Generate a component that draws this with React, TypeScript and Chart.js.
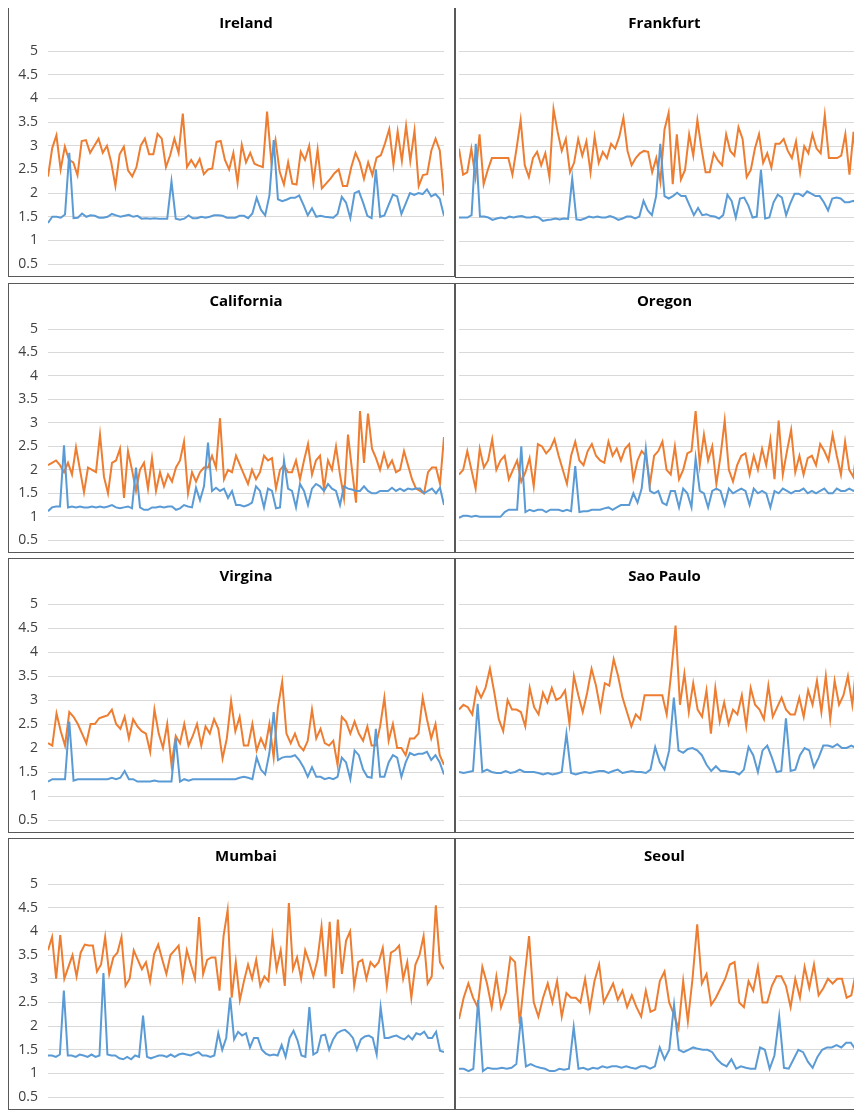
import { useEffect, useRef } from "react"
import { Chart, registerables } from "chart.js"

Chart.register(...registerables)

const irelandBlue = [1.37,1.5,1.5,1.48,1.55,2.85,1.47,1.48,1.57,1.5,1.53,1.52,1.48,1.48,1.5,1.56,1.53,1.5,1.52,1.54,1.5,1.52,1.46,1.47,1.46,1.47,1.46,1.46,1.46,2.25,1.46,1.44,1.46,1.53,1.47,1.47,1.5,1.48,1.5,1.53,1.53,1.52,1.48,1.48,1.48,1.52,1.52,1.47,1.57,1.9,1.65,1.53,1.95,3.12,1.87,1.83,1.86,1.9,1.9,1.95,1.75,1.53,1.68,1.5,1.52,1.5,1.49,1.48,1.56,1.92,1.8,1.47,2.0,2.04,1.8,1.52,1.47,2.5,1.5,1.53,1.75,1.97,1.93,1.56,1.78,2.0,1.96,2.0,1.98,2.08,1.93,1.98,1.88,1.52]
const irelandOrange = [2.35,2.95,3.22,2.5,2.98,2.7,2.65,2.38,3.1,3.12,2.85,3.0,3.15,2.85,3.0,2.65,2.15,2.82,2.98,2.48,2.35,2.55,3.0,3.15,2.82,2.82,3.25,3.15,2.55,2.8,3.15,2.85,3.68,2.55,2.7,2.55,2.72,2.4,2.5,2.52,3.08,3.1,2.7,2.5,2.85,2.22,3.02,2.65,2.85,2.62,2.58,2.55,3.72,2.68,3.12,2.45,2.18,2.65,2.2,2.18,2.87,2.7,3.0,2.22,2.92,2.1,2.2,2.3,2.42,2.5,2.15,2.15,2.55,2.85,2.65,2.3,2.65,2.38,2.75,2.8,3.05,3.35,2.6,3.3,2.68,3.42,2.68,3.32,2.15,2.38,2.4,2.9,3.15,2.9,1.95]

const frankfurtBlue = [1.5,1.5,1.5,1.55,3.05,1.52,1.52,1.5,1.45,1.48,1.5,1.48,1.52,1.5,1.52,1.53,1.5,1.5,1.52,1.5,1.43,1.45,1.46,1.48,1.46,1.48,1.47,2.32,1.46,1.45,1.48,1.52,1.5,1.52,1.5,1.5,1.53,1.5,1.45,1.48,1.52,1.52,1.48,1.52,1.85,1.65,1.55,1.95,3.05,1.95,1.9,1.95,2.02,1.95,1.95,1.75,1.55,1.7,1.55,1.57,1.53,1.52,1.48,1.55,1.98,1.85,1.5,1.9,1.92,1.75,1.5,1.52,2.5,1.48,1.5,1.82,1.98,1.92,1.55,1.8,2.0,2.0,1.95,2.05,2.0,1.95,1.95,1.82,1.65,1.9,1.92,1.9,1.82,1.82,1.85,1.8,2.5,1.88,1.88]
const frankfurtOrange = [2.95,2.4,2.45,2.95,2.35,3.25,2.2,2.5,2.75,2.75,2.75,2.75,2.75,2.4,2.95,3.55,2.6,2.35,2.75,2.88,2.6,2.85,2.35,3.78,3.3,2.9,3.15,2.45,2.65,3.15,2.8,3.1,2.45,3.2,2.65,2.88,2.75,3.05,2.95,3.2,3.6,2.9,2.6,2.75,2.85,2.9,2.88,2.45,2.75,2.25,3.35,3.7,2.2,3.25,2.3,2.5,3.25,2.8,3.55,2.95,2.45,2.45,2.85,2.7,2.6,3.25,2.9,2.8,3.4,3.15,2.35,2.5,2.95,3.25,2.65,2.85,2.55,3.05,3.05,3.15,2.9,2.75,3.1,2.45,3.0,2.85,3.25,2.95,2.85,3.65,2.75,2.75,2.75,2.8,3.25,2.4,3.3,2.4,2.7,3.35,3.32]

const californiaBlue = [1.12,1.2,1.22,1.22,2.52,1.2,1.22,1.2,1.22,1.2,1.2,1.22,1.2,1.22,1.2,1.22,1.25,1.2,1.18,1.2,1.22,1.18,2.05,1.2,1.15,1.15,1.2,1.2,1.22,1.2,1.22,1.22,1.15,1.18,1.25,1.22,1.2,1.62,1.35,1.65,2.58,1.55,1.62,1.55,1.6,1.4,1.55,1.25,1.25,1.22,1.25,1.3,1.65,1.55,1.2,1.6,1.55,1.18,1.2,2.2,1.6,1.55,1.2,1.7,1.55,1.25,1.6,1.7,1.65,1.55,1.7,1.6,1.55,1.25,1.65,1.6,1.58,1.55,1.55,1.65,1.55,1.5,1.5,1.55,1.55,1.55,1.62,1.55,1.6,1.55,1.6,1.58,1.6,1.6,1.5,1.55,1.6,1.5,1.62,1.25]
const californiaOrange = [2.1,2.15,2.2,2.1,1.95,2.15,1.9,2.48,2.0,1.52,2.05,2.0,1.95,2.75,1.85,1.5,2.15,2.2,2.45,1.4,2.4,2.0,1.55,2.0,2.15,1.6,2.25,1.55,1.95,1.65,1.9,1.75,2.05,2.2,2.6,1.5,1.95,1.75,1.95,2.05,2.05,2.3,2.05,3.1,1.8,2.0,1.95,2.3,2.1,1.9,1.7,2.0,1.8,1.95,2.3,2.2,2.25,1.6,2.0,2.1,1.95,1.95,2.2,1.8,2.2,2.55,1.9,2.2,2.3,1.6,2.2,2.0,2.5,1.9,1.4,2.75,2.0,1.3,3.25,2.15,3.2,2.45,2.25,2.0,2.35,2.05,2.2,1.95,2.0,2.4,2.1,1.8,1.6,1.55,1.5,1.95,2.05,2.05,1.7,2.7]

const oregonBlue = [0.98,1.02,1.02,1.0,1.02,1.0,1.0,1.0,1.0,1.0,1.0,1.1,1.15,1.15,1.15,2.5,1.1,1.15,1.12,1.15,1.15,1.1,1.15,1.15,1.15,1.12,1.15,1.12,2.08,1.1,1.12,1.12,1.15,1.15,1.15,1.18,1.2,1.15,1.2,1.25,1.25,1.25,1.5,1.3,1.6,2.45,1.55,1.5,1.55,1.3,1.25,1.55,1.55,1.2,1.6,1.5,1.2,2.25,1.55,1.5,1.2,1.55,1.6,1.55,1.25,1.6,1.5,1.55,1.6,1.55,1.25,1.6,1.5,1.55,1.5,1.2,1.55,1.5,1.6,1.55,1.5,1.55,1.55,1.6,1.5,1.55,1.5,1.55,1.6,1.5,1.5,1.6,1.55,1.55,1.6,1.55,1.6,1.5,1.55,1.25]
const oregonOrange = [1.9,2.0,2.4,2.0,1.6,2.45,2.05,2.2,2.65,2.0,2.2,2.3,1.8,2.0,2.2,1.75,1.95,2.25,1.65,2.55,2.5,2.35,2.45,2.65,2.3,2.0,1.7,2.3,2.6,2.2,2.1,2.4,2.55,2.3,2.2,2.15,2.6,2.3,2.45,2.2,2.45,2.55,1.8,2.2,2.4,2.3,1.7,2.3,2.4,2.6,2.0,1.9,2.5,1.8,2.0,2.35,2.4,3.25,2.1,2.75,2.2,2.5,1.7,2.3,3.05,2.0,1.75,2.1,2.3,2.35,1.9,2.3,2.0,2.45,2.1,2.65,1.8,3.05,1.9,2.4,2.85,1.95,2.3,1.9,2.25,2.3,2.1,2.55,2.4,2.2,2.75,2.3,1.9,2.6,2.0,1.85,2.6,1.9,2.55,2.2]

const virginaBlue = [1.3,1.35,1.35,1.35,1.35,2.55,1.32,1.35,1.35,1.35,1.35,1.35,1.35,1.35,1.35,1.38,1.35,1.38,1.52,1.35,1.35,1.3,1.3,1.3,1.3,1.32,1.3,1.3,1.3,1.3,2.2,1.3,1.35,1.32,1.35,1.35,1.35,1.35,1.35,1.35,1.35,1.35,1.35,1.35,1.35,1.38,1.4,1.38,1.35,1.8,1.55,1.45,1.9,2.75,1.75,1.8,1.82,1.82,1.85,1.75,1.6,1.4,1.6,1.4,1.4,1.35,1.38,1.35,1.4,1.8,1.7,1.35,1.95,1.85,1.55,1.4,1.38,2.4,1.4,1.4,1.7,1.85,1.8,1.4,1.7,1.9,1.85,1.88,1.88,1.92,1.75,1.85,1.7,1.45]
const virginaOrange = [2.1,2.05,2.72,2.35,2.05,2.75,2.65,2.5,2.3,2.1,2.5,2.5,2.62,2.65,2.68,2.8,2.5,2.4,2.65,2.2,2.6,2.45,2.35,2.3,1.92,2.8,2.3,2.0,2.5,1.65,2.25,2.1,2.5,2.05,2.25,2.5,2.05,2.45,2.3,2.6,2.4,1.78,2.2,2.98,2.35,2.65,2.05,2.05,2.5,1.95,2.2,2.0,2.5,1.8,2.85,3.38,2.3,2.1,2.3,2.05,1.95,2.15,2.8,2.2,2.4,2.1,2.05,2.15,1.65,2.65,2.55,2.3,2.55,2.3,2.15,2.45,2.05,2.05,2.45,3.05,2.15,2.5,2.0,2.0,1.85,2.2,2.2,2.3,3.05,2.6,2.2,2.5,1.85,1.65]

const saoPauloBlue = [1.5,1.48,1.5,1.52,2.92,1.5,1.55,1.5,1.48,1.48,1.52,1.48,1.5,1.55,1.5,1.5,1.5,1.48,1.45,1.48,1.45,1.47,1.5,2.3,1.48,1.45,1.48,1.5,1.48,1.5,1.52,1.52,1.48,1.52,1.55,1.48,1.5,1.52,1.5,1.5,1.48,1.55,2.02,1.7,1.55,1.95,3.05,1.95,1.9,1.98,2.0,1.95,1.85,1.65,1.52,1.62,1.52,1.52,1.5,1.5,1.45,1.55,2.02,1.85,1.5,1.95,2.05,1.8,1.5,1.52,2.62,1.52,1.55,1.85,2.0,1.95,1.6,1.8,2.05,2.05,2.02,2.08,2.0,2.0,2.05,2.0,1.95,1.85,1.6]
const saoPauloOrange = [2.8,2.9,2.85,2.7,3.25,3.05,3.25,3.65,3.15,2.6,2.35,3.0,2.8,2.8,2.75,2.45,3.25,2.85,2.7,3.15,2.95,3.25,3.0,3.05,3.2,2.5,3.5,3.1,2.75,3.15,3.65,3.3,2.8,3.35,3.3,3.85,3.5,3.05,2.75,2.45,2.7,2.6,3.1,3.1,3.1,3.1,3.1,2.7,3.55,4.55,2.9,3.55,2.75,3.35,2.8,2.65,3.2,2.3,3.25,2.55,2.95,2.5,2.8,2.7,3.1,2.45,3.25,2.9,2.8,2.6,3.3,2.65,2.85,3.05,2.8,2.7,2.7,3.05,2.65,3.2,2.9,3.4,2.75,3.5,2.6,3.4,2.9,3.1,3.5,2.9,3.8,2.95,3.15,2.3]

const mumbaiBlue = [1.38,1.38,1.35,1.4,2.75,1.38,1.38,1.35,1.4,1.38,1.35,1.4,1.35,1.38,3.12,1.4,1.38,1.38,1.32,1.3,1.35,1.3,1.38,1.35,2.22,1.35,1.32,1.35,1.38,1.38,1.35,1.4,1.35,1.4,1.42,1.4,1.38,1.42,1.45,1.38,1.38,1.35,1.38,1.85,1.5,1.75,2.6,1.72,1.88,1.8,1.85,1.55,1.75,1.75,1.5,1.42,1.38,1.4,1.38,1.6,1.35,1.75,1.9,1.7,1.38,1.35,2.4,1.4,1.45,1.8,1.82,1.5,1.72,1.85,1.9,1.92,1.85,1.75,1.5,1.72,1.78,1.8,1.75,1.4,2.4,1.75,1.75,1.78,1.8,1.75,1.72,1.8,1.72,1.85,1.82,1.88,1.75,1.75,1.88,1.48,1.45]
const mumbaiOrange = [3.6,3.88,3.0,3.92,3.0,3.25,3.5,3.05,3.55,3.72,3.7,3.7,3.15,3.3,3.88,3.1,3.45,3.55,3.88,2.85,3.0,3.6,3.4,3.2,3.35,2.95,3.52,3.72,3.4,3.1,3.5,3.6,3.7,3.0,3.6,3.3,3.0,4.3,3.1,3.4,3.45,3.45,2.75,3.9,4.45,2.6,3.35,2.55,2.95,3.3,3.0,3.4,2.85,3.05,2.95,3.9,3.2,3.6,2.85,4.6,3.2,3.45,3.0,3.6,3.35,3.05,3.4,4.1,3.05,4.2,2.8,4.25,3.1,3.8,4.0,2.85,3.35,3.4,3.0,3.35,3.25,3.35,3.65,2.85,3.55,3.6,3.7,3.0,3.35,2.6,3.3,3.5,3.9,2.9,3.05,4.55,3.35,3.2]

const seoulBlue = [1.1,1.1,1.05,1.1,2.55,1.05,1.12,1.1,1.1,1.12,1.1,1.12,1.2,2.2,1.15,1.2,1.15,1.12,1.1,1.05,1.05,1.1,1.08,1.1,1.98,1.1,1.12,1.08,1.12,1.1,1.15,1.12,1.15,1.15,1.12,1.15,1.12,1.1,1.15,1.15,1.1,1.15,1.55,1.3,1.5,2.45,1.5,1.45,1.5,1.55,1.52,1.5,1.5,1.45,1.3,1.2,1.15,1.3,1.1,1.15,1.12,1.1,1.1,1.55,1.5,1.1,1.38,2.2,1.12,1.1,1.3,1.5,1.45,1.25,1.12,1.35,1.5,1.55,1.55,1.6,1.55,1.65,1.65,1.5,1.5,1.45,1.15]
const seoulOrange = [2.15,2.6,2.9,2.6,2.4,3.25,2.9,2.4,3.05,2.4,2.7,3.45,3.35,2.05,3.0,3.9,2.5,2.2,2.6,2.9,2.5,2.95,2.2,2.7,2.6,2.6,2.5,3.0,2.35,2.95,3.3,2.5,2.7,2.9,2.55,2.75,2.4,2.65,2.4,2.2,2.75,2.3,2.35,2.95,3.15,2.5,2.25,1.95,2.95,2.1,3.0,4.15,2.9,3.1,2.45,2.6,2.8,3.0,3.3,3.35,2.5,2.4,2.95,2.75,3.25,2.5,2.5,2.85,3.05,3.05,2.85,2.4,3.0,2.6,3.25,2.8,3.3,2.65,2.8,3.0,2.9,3.0,3.0,2.6,2.65,3.15,3.15,2.1,2.95]

const yTicks = [0.5, 1, 1.5, 2, 2.5, 3, 3.5, 4, 4.5, 5]

const panels = [
  { title: "Ireland", blue: irelandBlue, orange: irelandOrange, left: true, top: 5, height: 272 },
  { title: "Frankfurt", blue: frankfurtBlue, orange: frankfurtOrange, left: false, top: 5, height: 273 },
  { title: "California", blue: californiaBlue, orange: californiaOrange, left: true, top: 283, height: 270 },
  { title: "Oregon", blue: oregonBlue, orange: oregonOrange, left: false, top: 283, height: 270 },
  { title: "Virgina", blue: virginaBlue, orange: virginaOrange, left: true, top: 558, height: 275 },
  { title: "Sao Paulo", blue: saoPauloBlue, orange: saoPauloOrange, left: false, top: 558, height: 275 },
  { title: "Mumbai", blue: mumbaiBlue, orange: mumbaiOrange, left: true, top: 838, height: 272 },
  { title: "Seoul", blue: seoulBlue, orange: seoulOrange, left: false, top: 838, height: 272 },
]

const toPoints = (arr: number[]) => arr.map((y, i) => ({ x: i / (arr.length - 1), y }))

// draws the y labels beside the axis (only on the left column)
const yLabels = {
  id: "yLabels",
  afterDraw(chart: Chart) {
    const y = chart.scales.y
    const ctx = chart.ctx
    ctx.save()
    ctx.fillStyle = "#404040"
    ctx.font = "14px 'Open Sans', sans-serif"
    ctx.textAlign = "right"
    ctx.textBaseline = "middle"
    yTicks.forEach((v) => ctx.fillText(String(v), chart.chartArea.left - 10, y.getPixelForValue(v)))
    ctx.restore()
  },
}

function Panel({ p }: { p: (typeof panels)[number] }) {
  const ref = useRef<HTMLCanvasElement>(null)

  useEffect(() => {
    if (!ref.current) return
    const chart = new Chart(ref.current, {
      type: "line",
      data: {
        datasets: [
          { data: toPoints(p.blue), borderColor: "#5B9BD5", borderWidth: 2, pointRadius: 0, tension: 0 },
          { data: toPoints(p.orange), borderColor: "#ED7D31", borderWidth: 2, pointRadius: 0, tension: 0 },
        ],
      },
      options: {
        animation: false,
        responsive: false,
        events: [],
        layout: { padding: { left: p.left ? 39 : 3, right: p.left ? 10 : 0, bottom: 0 } },
        plugins: {
          legend: { display: false },
          tooltip: { enabled: false },
          title: {
            display: true,
            text: p.title,
            color: "#000",
            font: { family: "'Open Sans', sans-serif", size: 15, weight: "bold" },
            padding: { top: 9, bottom: 18 },
          },
        },
        scales: {
          x: { type: "linear", min: 0, max: 1, display: false },
          y: {
            min: 0.25,
            max: 5,
            afterBuildTicks: (axis) => {
              axis.ticks = yTicks.map((v) => ({ value: v }))
            },
            border: { display: false },
            grid: { color: "#d9d9d9", drawTicks: false },
            ticks: { display: false },
          },
        },
      },
      plugins: p.left ? [yLabels] : [],
    })
    return () => chart.destroy()
  }, [p])

  const width = p.left ? 447 : 416
  return (
    <div
      style={{
        position: "absolute",
        left: p.left ? 0 : 447,
        top: p.top - 8,
        width,
        height: p.height,
        border: "1px solid #595959",
        boxSizing: "border-box",
        background: "#fff",
      }}
    >
      <canvas ref={ref} width={width - 2} height={p.height - 2} style={{ display: "block" }} />
    </div>
  )
}

export default function App() {
  return (
    <div style={{ position: "relative", width: 854, height: 1102, overflow: "hidden" }}>
      {panels.map((p) => (
        <Panel key={p.title} p={p} />
      ))}
    </div>
  )
}
